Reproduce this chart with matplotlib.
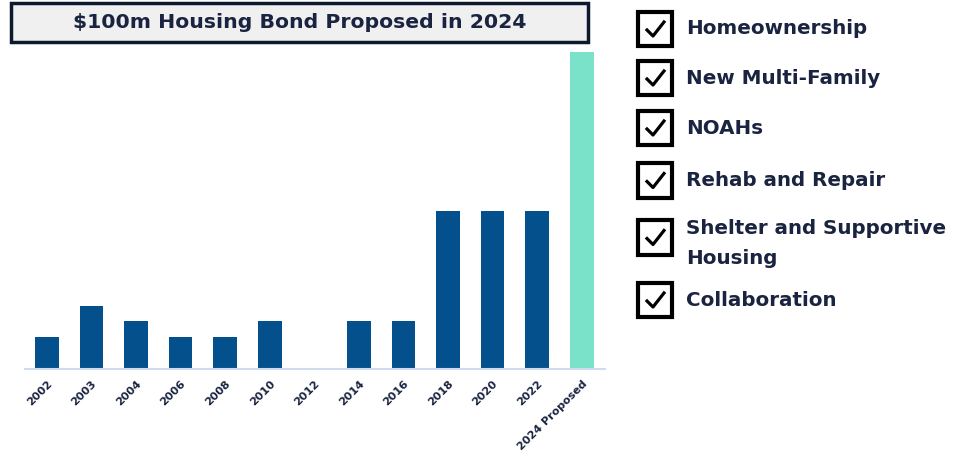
import matplotlib
matplotlib.use("Agg")
import matplotlib.pyplot as plt
from matplotlib.patches import Rectangle
from matplotlib.lines import Line2D

# bond amounts, $ millions
years = ["2002", "2003", "2004", "2006", "2008", "2010", "2012",
         "2014", "2016", "2018", "2020", "2022", "2024 Proposed"]
amounts = [10, 20, 15, 10, 10, 15, 0, 15, 15, 50, 50, 50, 100]
title = "$100m Housing Bond Proposed in 2024"
checklist = ["Homeownership", "New Multi-Family", "NOAHs", "Rehab and Repair",
             "Shelter and Supportive\nHousing", "Collaboration"]

NAVY = "#03508c"
MINT = "#7ae2c8"
INK = "#1a2440"
plt.rcParams["font.family"] = ["DejaVu Sans"]

W, H = 968, 453
fig = plt.figure(figsize=(W / 100, H / 100), dpi=100)
fig.patch.set_facecolor("white")

def fx(px): return px / W
def fy(py): return 1 - py / H

ax = fig.add_axes([fx(25), fy(369), fx(605) - fx(25), fy(52) - fy(369)])
colors = [NAVY] * (len(years) - 1) + [MINT]
ax.bar(range(len(years)), amounts, width=0.53, color=colors)
ax.set_xlim(-0.49, len(years) - 0.48)
ax.set_ylim(0, 100)
for s in ["top", "right", "left"]:
    ax.spines[s].set_visible(False)
ax.spines["bottom"].set_color("#cfdbef")
ax.spines["bottom"].set_linewidth(1.5)
ax.set_yticks([])
ax.set_xticks(range(len(years)))
ax.set_xticklabels(years, rotation=45, ha="right", rotation_mode="anchor",
                   fontsize=8, fontweight="bold", color=INK)
ax.tick_params(axis="x", length=0, pad=7)

# title box
fig.patches.append(Rectangle((fx(11), fy(42)), fx(588) - fx(11), fy(3) - fy(42),
                             transform=fig.transFigure, facecolor="#f0f0f0",
                             edgecolor="#0d1a2e", linewidth=2.5))
fig.text(fx(300), fy(23), title, ha="center", va="center", fontsize=14.7,
         fontweight="bold", color=INK)

# checklist
centers = [29, 78, 128, 180.5, 237.5, 300]
bs = 34
for label, cy in zip(checklist, centers):
    x0, y0 = 638, cy - bs / 2
    fig.patches.append(Rectangle((fx(x0), fy(y0 + bs)), fx(bs), bs / H,
                                 transform=fig.transFigure, facecolor="white",
                                 edgecolor="black", linewidth=3))
    fig.lines.append(Line2D([fx(x0 + 9), fx(x0 + 15), fx(x0 + 26)],
                            [fy(cy + 1), fy(cy + 7), fy(cy - 7)],
                            transform=fig.transFigure, color="black", linewidth=2.3))
    fig.text(fx(686), fy(cy + 6 if "\n" in label else cy), label, ha="left",
             va="center", fontsize=14.3, fontweight="bold", color=INK,
             linespacing=1.8)

fig.savefig("out.png", dpi=100)
